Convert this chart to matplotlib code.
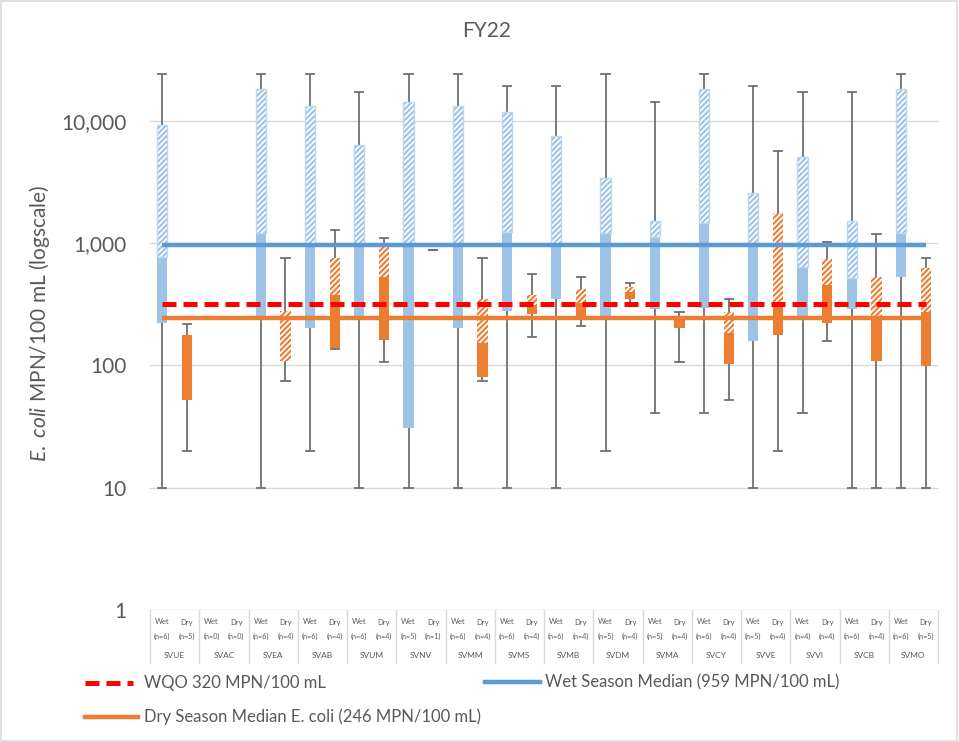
import numpy as np
import matplotlib
matplotlib.use("Agg")
import matplotlib.pyplot as plt
from matplotlib.lines import Line2D
from matplotlib.patches import Rectangle
from matplotlib.transforms import blended_transform_factory
from matplotlib.ticker import FixedLocator, NullLocator

plt.rcParams['font.family'] = ['Lato', 'DejaVu Sans']
plt.rcParams['mathtext.fontset'] = 'custom'
plt.rcParams['mathtext.rm'] = 'Lato'
plt.rcParams['mathtext.it'] = 'Lato:italic'
plt.rcParams['hatch.linewidth'] = 1.3

# ---- data (E. coli, MPN/100 mL) ----
stations = ["SVUE", "SVAC", "SVEA", "SVAB", "SVUM", "SVNV", "SVMM", "SVMS",
            "SVMB", "SVDM", "SVMA", "SVCY", "SVVE", "SVVI", "SVCB", "SVMO"]
wet_n = [6, 0, 6, 6, 6, 5, 6, 6, 6, 5, 5, 6, 5, 4, 6, 6]
dry_n = [5, 0, 4, 4, 4, 1, 4, 4, 4, 4, 4, 4, 4, 4, 4, 5]

nan = np.nan
wet_min = [10, nan, 10, 20, 10, 10, 10, 10, 10, 20, 41, 41, 10, 41, 10, 10]
wet_q1 = [222, nan, 251, 204, 251, 31, 204, 281, 352, 251, 289, 294, 157, 254, 289, 527]
wet_med = [776, nan, 1208, 990, 990, 990, 990, 1244, 990, 1208, 1132, 1457, 990, 644, 517, 1221]
wet_q3 = [9200, nan, 18300, 13340, 6370, 14220, 13340, 11920, 7540, 3400, 1521, 18300, 2563, 5110, 1521, 18300]
wet_max = [24196, nan, 24196, 24196, 17329, 24196, 24196, 19400, 19400, 24196, 14220, 24196, 19400, 17329, 17329, 24196]

dry_min = [20, nan, 75, 135, 106, 881, 74, 172, 212, 306, 106, 52, 20, 159, 10, 10]
dry_q1 = [52, nan, 109, 138, 162, 881, 80, 264, 251, 352, 204, 102, 176, 222, 108, 98]
dry_med = [178, nan, 109, 378, 533, 881, 152, 313, 323, 402, 244, 184, 327, 456, 254, 276]
dry_q3 = [178, nan, 281, 762, 938, 881, 352, 376, 421, 441, 244, 273, 1760, 744, 527, 632]
dry_max = [218, nan, 762, 1277, 1099, 881, 762, 557, 527, 471, 273, 352, 5720, 1025, 1184, 762]

wqo = 320
wet_season_median = 959
dry_season_median = 246

# ---- colours ----
WET = "#9DC3E6"
WET_EDGE = "#BDD7EE"
DRY = "#ED7D31"
WHISK = "#6F6F6F"
TXT = "#595959"
GRID = "#D9D9D9"

W, H = 959, 742
fig = plt.figure(figsize=(W / 100, H / 100), dpi=100)


def fx(px):
    return px / W


def fy(py):
    return 1 - py / H


ax = fig.add_axes([fx(150), fy(610), fx(938) - fx(150), fy(62.5) - fy(610)])
ax.set_yscale("log")
ax.set_ylim(1, 30000)
n_slots = 2 * len(stations)
ax.set_xlim(-0.5, n_slots - 0.5)
for s in ax.spines.values():
    s.set_visible(False)
ax.xaxis.set_major_locator(NullLocator())
ax.xaxis.set_minor_locator(NullLocator())
ax.yaxis.set_major_locator(FixedLocator([1, 10, 100, 1000, 10000]))
ax.yaxis.set_minor_locator(NullLocator())
ax.set_yticklabels(["1", "10", "100", "1,000", "10,000"])
ax.tick_params(axis="y", length=0, pad=17, labelsize=15, labelcolor=TXT)
ax.grid(axis="y", color=GRID, lw=1.0, zorder=0)
ax.set_axisbelow(True)

wet_x = np.arange(len(stations)) * 2
dry_x = wet_x + 1
bw = 0.42
cap = 0.17


def draw_group(xs, mn, q1, med, q3, mx, color, hatch_edge):
    for x, a, b, c, d, e in zip(xs, mn, q1, med, q3, mx):
        if np.isnan(a):
            continue
        ax.plot([x, x], [a, e], color=WHISK, lw=1.3, zorder=2, solid_capstyle="butt")
        ax.plot([x - cap, x + cap], [a, a], color=WHISK, lw=1.3, zorder=2)
        ax.plot([x - cap, x + cap], [e, e], color=WHISK, lw=1.3, zorder=2)
        if c > b:
            ax.bar(x, c - b, bottom=b, width=bw, color=color, lw=0, zorder=3)
        if d > c:
            ax.bar(x, d - c, bottom=c, width=bw, facecolor=color,
                   edgecolor="white", hatch="//////", lw=0, zorder=3)
            if hatch_edge:
                ax.bar(x, d - c, bottom=c, width=bw, fill=False,
                       edgecolor=hatch_edge, lw=1.0, zorder=3)


draw_group(wet_x, wet_min, wet_q1, wet_med, wet_q3, wet_max, WET, WET_EDGE)
draw_group(dry_x, dry_min, dry_q1, dry_med, dry_q3, dry_max, DRY, None)

# reference lines across all slots
span = [0, n_slots - 1]
ax.plot(span, [dry_season_median] * 2, color=DRY, lw=3.2, zorder=4, solid_capstyle="butt")
ax.plot(span, [wet_season_median] * 2, color="#5B9BD5", lw=3.2, zorder=4, solid_capstyle="butt")
ax.plot(span, [wqo] * 2, color="#FF0000", lw=3.6, zorder=5, dashes=(2.8, 1.4))

# category table below the plot
tr = blended_transform_factory(ax.transData, ax.transAxes)
ah = 547.5


def ay(py):
    return (610 - py) / ah


for k in range(len(stations) + 1):
    ax.plot([2 * k - 0.5] * 2, [ay(610), ay(663)], transform=tr, color=GRID,
            lw=1.0, clip_on=False)
for k, st in enumerate(stations):
    ax.text(wet_x[k], ay(622), "Wet", transform=tr, ha="center", va="center",
            fontsize=5.5, color=TXT)
    ax.text(dry_x[k], ay(622), "Dry", transform=tr, ha="center", va="center",
            fontsize=5.5, color=TXT)
    ax.text(wet_x[k], ay(636), f"(n={wet_n[k]})", transform=tr, ha="center",
            va="center", fontsize=5.2, color=TXT)
    ax.text(dry_x[k], ay(636), f"(n={dry_n[k]})", transform=tr, ha="center",
            va="center", fontsize=5.2, color=TXT)
    ax.text(wet_x[k] + 0.5, ay(656), st, transform=tr, ha="center", va="center",
            fontsize=6, color=TXT)

# title and axis label
fig.text(fx(487), fy(31), "FY22", ha="center", va="center", fontsize=15, color=TXT)
fig.text(fx(40), fy(323), r"$\mathit{E.\ coli}$ MPN/100 mL (logscale)",
         rotation=90, ha="center", va="center", fontsize=15, color=TXT)

# legend
fig.add_artist(Line2D([fx(85), fx(133)], [fy(683)] * 2, color="#FF0000", lw=3.6,
                      dashes=(2.8, 1.4)))
fig.text(fx(144), fy(683), "WQO 320 MPN/100 mL", ha="left", va="center",
         fontsize=12, color=TXT)
fig.add_artist(Line2D([fx(485), fx(540)], [fy(682)] * 2, color="#5B9BD5", lw=3.2))
fig.text(fx(545), fy(682), "Wet Season Median (959 MPN/100 mL)", ha="left",
         va="center", fontsize=12, color=TXT)
fig.add_artist(Line2D([fx(85), fx(138)], [fy(717)] * 2, color=DRY, lw=3.2))
fig.text(fx(144), fy(717), "Dry Season Median E. coli (246 MPN/100 mL)", ha="left",
         va="center", fontsize=12, color=TXT)

# chart frame
fig.add_artist(Rectangle((0.001, 0.001), 0.997, 0.997, transform=fig.transFigure,
                         fill=False, edgecolor=GRID, lw=1.2))

fig.savefig("out.png", dpi=100)
